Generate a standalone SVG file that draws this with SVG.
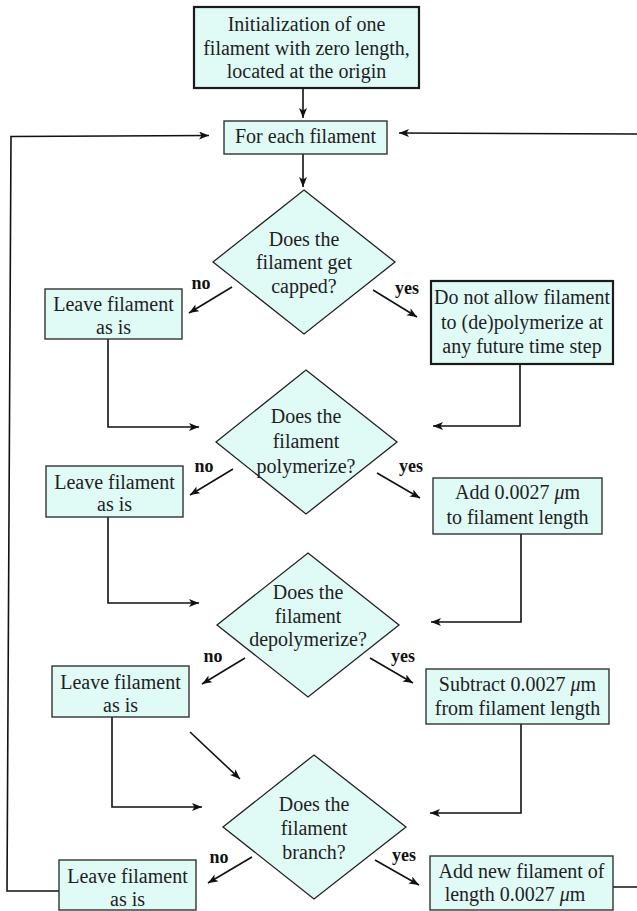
<svg xmlns="http://www.w3.org/2000/svg" width="637" height="911" viewBox="0 0 637 911">
<defs>
<style>
.box{fill:#e0faf6;stroke:#333;stroke-width:1.4}
.thick{stroke:#1a1a1a;stroke-width:2.2}
.dia{fill:#e0faf6;stroke:#222;stroke-width:1.3}
.t{font-family:'Liberation Serif','DejaVu Serif',serif;font-size:20px;font-weight:normal;fill:#1e1e1e;text-anchor:middle}
.lbl{font-family:'Liberation Serif','DejaVu Serif',serif;font-size:18px;font-weight:bold;fill:#111;text-anchor:middle}
.c{fill:none;stroke:#111;stroke-width:1.6}
.a{marker-end:url(#ah)}
</style>
<marker id="ah" markerUnits="userSpaceOnUse" markerWidth="12" markerHeight="10" refX="10" refY="4" orient="auto">
<path d="M0,0 L10,4 L0,8 L2.5,4 z" fill="#111"/>
</marker>
</defs>
<g id="connectors">
<path class="c a" d="M303,88 L303,118"/>
<path class="c a" d="M303,154 L303,187"/>
<path class="c a" d="M232,287 L189,313"/>
<path class="c a" d="M373,290 L417,317"/>
<path class="c a" d="M108,339 L108,427 L199,427"/>
<path class="c a" d="M520,364 L520,426 L433,426"/>
<path class="c a" d="M233,469 L190,495"/>
<path class="c a" d="M377,473 L420,498"/>
<path class="c a" d="M108,517 L108,603 L199,603"/>
<path class="c a" d="M521,534 L521,622 L431,622"/>
<path class="c a" d="M245,658 L202,684"/>
<path class="c a" d="M370,658 L413,683"/>
<path class="c a" d="M112,717 L112,807 L202,807"/>
<path class="c a" d="M190,732 L240,779"/>
<path class="c a" d="M521,724 L521,813 L430,813"/>
<path class="c a" d="M252,857 L208,883"/>
<path class="c a" d="M375,860 L419,885"/>
<path class="c a" d="M59,891 L7,891 L11,136.5 L209,135.5"/>
<path class="c" d="M599,887 L637,887"/>
<path class="c a" d="M637,134 L399,133"/>
</g>
<g id="init">
<rect class="box thick" x="194" y="7" width="225" height="81"/>
<text class="t" x="306.5" y="31">Initialization of one</text>
<text class="t" x="306.5" y="55">filament with zero length,</text>
<text class="t" x="306.5" y="78">located at the origin</text>
</g>
<g id="foreach">
<rect class="box" x="224" y="121" width="163" height="33"/>
<text class="t" x="305.5" y="143">For each filament</text>
</g>
<g id="d1">
<polygon class="dia" points="304,190 395,262 304,334 213,262"/>
<text class="t" x="304" y="246">Does the</text>
<text class="t" x="304" y="269">filament get</text>
<text class="t" x="304" y="293">capped?</text>
</g>
<text class="lbl" x="201" y="289">no</text>
<text class="lbl" x="407" y="294">yes</text>
<g id="leave1">
<rect class="box" x="45" y="289" width="137" height="50"/>
<text class="t" x="113.5" y="311">Leave filament</text>
<text class="t" x="113.5" y="334">as is</text>
</g>
<g id="capped">
<rect class="box thick" x="431" y="281" width="182" height="83"/>
<text class="t" x="522" y="304">Do not allow filament</text>
<text class="t" x="522" y="329">to (de)polymerize at</text>
<text class="t" x="522" y="353">any future time step</text>
</g>
<g id="d2">
<polygon class="dia" points="306,370 397,442 306,514 216,442"/>
<text class="t" x="306" y="423">Does the</text>
<text class="t" x="306" y="448">filament</text>
<text class="t" x="306" y="473">polymerize?</text>
</g>
<text class="lbl" x="204" y="472">no</text>
<text class="lbl" x="411" y="472">yes</text>
<g id="leave2">
<rect class="box" x="46" y="466" width="137" height="51"/>
<text class="t" x="114.5" y="489">Leave filament</text>
<text class="t" x="114.5" y="511">as is</text>
</g>
<g id="add">
<rect class="box" x="433" y="478" width="169" height="56"/>
<text class="t" x="517.5" y="499">Add 0.0027 <tspan font-style="italic">μ</tspan>m</text>
<text class="t" x="517.5" y="524">to filament length</text>
</g>
<g id="d3">
<polygon class="dia" points="308,553 399,625 308,697 217,625"/>
<text class="t" x="308" y="599">Does the</text>
<text class="t" x="308" y="623">filament</text>
<text class="t" x="308" y="646">depolymerize?</text>
</g>
<text class="lbl" x="213" y="662">no</text>
<text class="lbl" x="403" y="662">yes</text>
<g id="leave3">
<rect class="box" x="52" y="666" width="137" height="51"/>
<text class="t" x="120.5" y="689">Leave filament</text>
<text class="t" x="120.5" y="712">as is</text>
</g>
<g id="subtract">
<rect class="box" x="426" y="669" width="183" height="55"/>
<text class="t" x="517.5" y="691">Subtract 0.0027 <tspan font-style="italic">μ</tspan>m</text>
<text class="t" x="517.5" y="715">from filament length</text>
</g>
<g id="d4">
<polygon class="dia" points="314,755 406,827 314,899 223,827"/>
<text class="t" x="314" y="811">Does the</text>
<text class="t" x="314" y="835">filament</text>
<text class="t" x="314" y="859">branch?</text>
</g>
<text class="lbl" x="219" y="863">no</text>
<text class="lbl" x="404" y="861">yes</text>
<g id="leave4">
<rect class="box" x="59" y="860" width="137" height="50"/>
<text class="t" x="127.5" y="883">Leave filament</text>
<text class="t" x="127.5" y="906">as is</text>
</g>
<g id="branch">
<rect class="box" x="430" y="856" width="183" height="54"/>
<text class="t" x="521.5" y="878">Add new filament of</text>
<text class="t" x="515" y="901">length 0.0027 <tspan font-style="italic">μ</tspan>m</text>
</g>
</svg>
